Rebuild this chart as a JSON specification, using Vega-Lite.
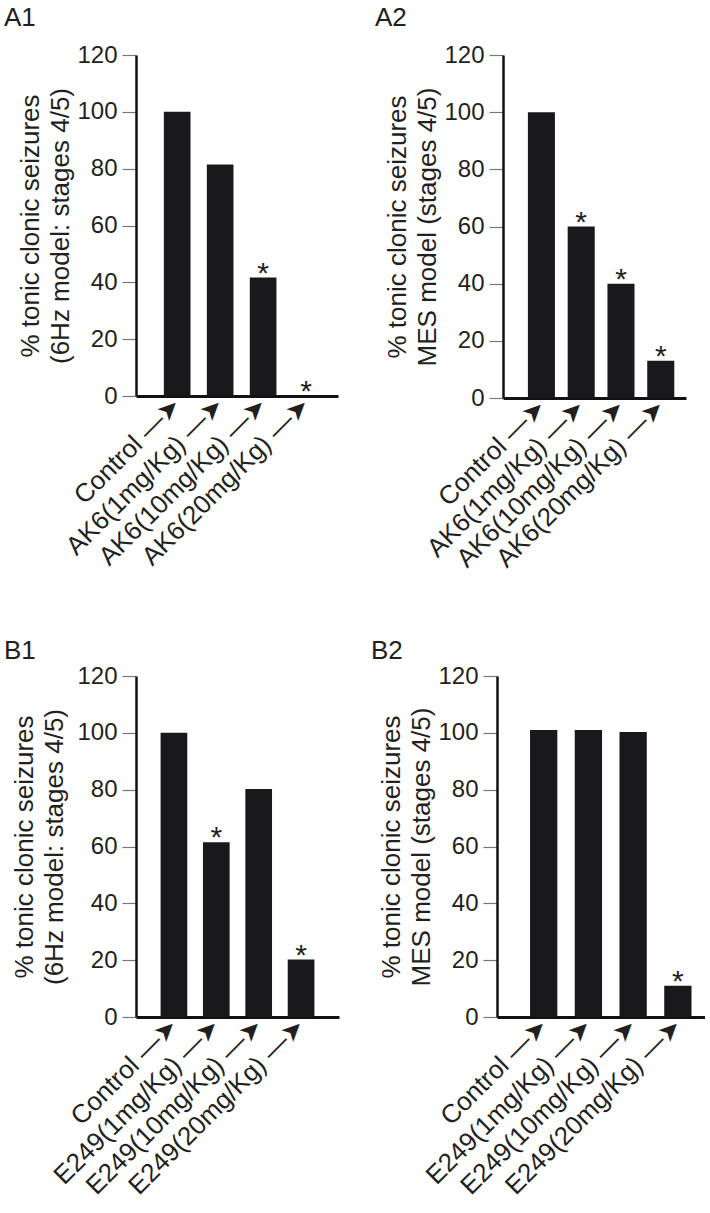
{
  "$schema": "https://vega.github.io/schema/vega-lite/v6.json",
  "background": "white",
  "padding": {"left": 3, "top": 5, "right": 0, "bottom": 0},
  "config": {
    "font": "Liberation Sans",
    "view": {"stroke": null},
    "title": {"fontSize": 26, "fontWeight": "normal", "anchor": "start", "frame": "bounds", "color": "#231f20", "offset": 12},
    "axisY": {"grid": false, "tickSize": 14, "tickColor": "#777777", "tickWidth": 1.2, "domainColor": "#111111", "domainWidth": 2.5, "labelFontSize": 24, "labelColor": "#231f20", "labelPadding": 5, "titleFontSize": 26, "titleFontWeight": "normal", "titleColor": "#231f20", "titleLineHeight": 30, "titlePadding": 3},
    "axisX": {"ticks": false, "domainColor": "#111111", "domainWidth": 3, "labelAngle": -45, "labelAlign": "right", "labelBaseline": "middle", "labelFontSize": 26, "labelColor": "#231f20", "labelPadding": 5, "labelLimit": 400, "labelOverlap": false, "labelBound": false, "title": null, "labelExpr": "datum.label + ' —➤'"}
  },
  "datasets": {
    "a1": [
      {"group": "Control", "value": 100, "sig": ""},
      {"group": "AK6(1mg/Kg)", "value": 81.5, "sig": ""},
      {"group": "AK6(10mg/Kg)", "value": 41.7, "sig": "*"},
      {"group": "AK6(20mg/Kg)", "value": 0, "sig": "*"}
    ],
    "a2": [
      {"group": "Control", "value": 100, "sig": ""},
      {"group": "AK6(1mg/Kg)", "value": 60, "sig": "*"},
      {"group": "AK6(10mg/Kg)", "value": 40, "sig": "*"},
      {"group": "AK6(20mg/Kg)", "value": 13, "sig": "*"}
    ],
    "b1": [
      {"group": "Control", "value": 100, "sig": ""},
      {"group": "E249(1mg/Kg)", "value": 61.5, "sig": "*"},
      {"group": "E249(10mg/Kg)", "value": 80.2, "sig": ""},
      {"group": "E249(20mg/Kg)", "value": 20.2, "sig": "*"}
    ],
    "b2": [
      {"group": "Control", "value": 101, "sig": ""},
      {"group": "E249(1mg/Kg)", "value": 101, "sig": ""},
      {"group": "E249(10mg/Kg)", "value": 100.3, "sig": ""},
      {"group": "E249(20mg/Kg)", "value": 11, "sig": "*"}
    ]
  },
  "vconcat": [
    {
      "hconcat": [
        {
          "data": {"name": "a1"},
          "title": {"text": "A1", "dx": -14},
          "width": 202, "height": 341,
          "encoding": {
            "x": {"field": "group", "type": "nominal", "sort": null, "scale": {"paddingInner": 0.38, "paddingOuter": 0.54, "align": 0.6}},
            "y": {"field": "value", "type": "quantitative", "scale": {"domain": [0, 120], "nice": false}, "axis": {"values": [0, 20, 40, 60, 80, 100, 120], "title": ["% tonic clonic seizures", "(6Hz model: stages 4/5)"]}}
          },
          "layer": [
            {"mark": {"type": "bar", "color": "#19191b"}},
            {"mark": {"type": "text", "fontSize": 30, "baseline": "alphabetic", "dy": 5, "color": "#231f20"}, "encoding": {"text": {"field": "sig"}}}
          ]
        },
        {
          "data": {"name": "a2"},
          "title": {"text": "A2", "dx": -10},
          "width": 183, "height": 343,
          "encoding": {
            "x": {"field": "group", "type": "nominal", "sort": null, "scale": {"paddingInner": 0.32, "paddingOuter": 0.46, "align": 0.68}},
            "y": {"field": "value", "type": "quantitative", "scale": {"domain": [0, 120], "nice": false}, "axis": {"values": [0, 20, 40, 60, 80, 100, 120], "title": ["% tonic clonic seizures", "MES model (stages 4/5)"]}}
          },
          "layer": [
            {"mark": {"type": "bar", "color": "#19191b"}},
            {"mark": {"type": "text", "fontSize": 30, "baseline": "alphabetic", "dy": 5, "color": "#231f20"}, "encoding": {"text": {"field": "sig"}}}
          ]
        }
      ],
      "spacing": 36
    },
    {
      "hconcat": [
        {
          "data": {"name": "b1"},
          "title": {"text": "B1", "dx": -8, "offset": 0},
          "width": 203, "height": 341,
          "encoding": {
            "x": {"field": "group", "type": "nominal", "sort": null, "scale": {"paddingInner": 0.37, "paddingOuter": 0.58, "align": 0.5}},
            "y": {"field": "value", "type": "quantitative", "scale": {"domain": [0, 120], "nice": false}, "axis": {"values": [0, 20, 40, 60, 80, 100, 120], "titlePadding": 9, "title": ["% tonic clonic seizures", "(6Hz model: stages 4/5)"]}}
          },
          "layer": [
            {"mark": {"type": "bar", "color": "#19191b"}},
            {"mark": {"type": "text", "fontSize": 30, "baseline": "alphabetic", "dy": 5, "color": "#231f20"}, "encoding": {"text": {"field": "sig"}}}
          ]
        },
        {
          "data": {"name": "b2"},
          "title": {"text": "B2", "dx": -8, "offset": 0},
          "width": 208, "height": 341,
          "encoding": {
            "x": {"field": "group", "type": "nominal", "sort": null, "scale": {"paddingInner": 0.39, "paddingOuter": 0.52, "align": 0.71}},
            "y": {"field": "value", "type": "quantitative", "scale": {"domain": [0, 120], "nice": false}, "axis": {"values": [0, 20, 40, 60, 80, 100, 120], "title": ["% tonic clonic seizures", "MES model (stages 4/5)"]}}
          },
          "layer": [
            {"mark": {"type": "bar", "color": "#19191b"}},
            {"mark": {"type": "text", "fontSize": 30, "baseline": "alphabetic", "dy": 5, "color": "#231f20"}, "encoding": {"text": {"field": "sig"}}}
          ]
        }
      ],
      "spacing": 31
    }
  ],
  "spacing": 66
}
